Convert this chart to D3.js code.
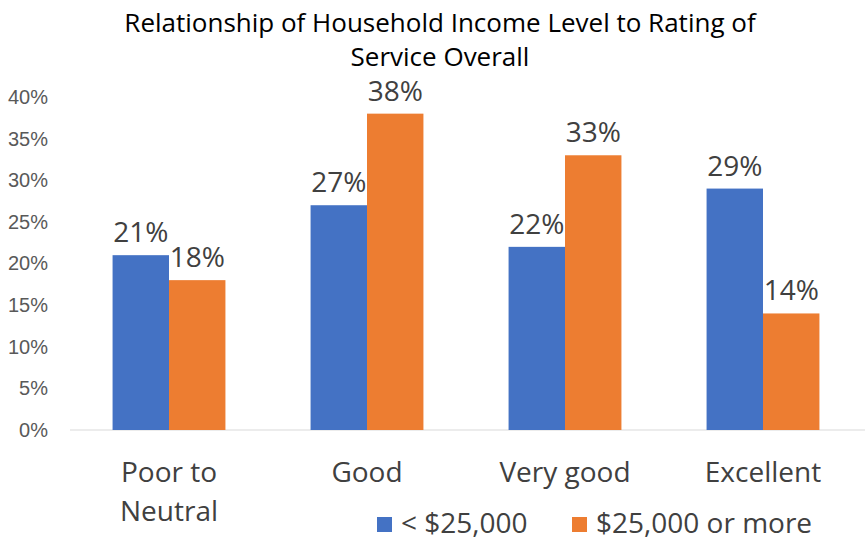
<!DOCTYPE html>
<html>
<head>
<meta charset="utf-8">
<script src="https://cdn.jsdelivr.net/npm/d3@7"></script>
<style>
  body { margin: 0; background: #fff; }
  svg { font-family: "Open Sans", "Noto Sans", sans-serif; }
</style>
</head>
<body>
<svg id="chart" width="865" height="552"></svg>
<script>
// data
let categories = ["Poor to Neutral", "Good", "Very good", "Excellent"],
    category_lines = [["Poor to", "Neutral"], ["Good"], ["Very good"], ["Excellent"]],
    series_names = ["< $25,000", "$25,000 or more"],
    low_income = [0.21, 0.27, 0.22, 0.29],
    high_income = [0.18, 0.38, 0.33, 0.14],
    y_ticks = [0, 0.05, 0.10, 0.15, 0.20, 0.25, 0.30, 0.35, 0.40],
    colors = ["#4472c4", "#ed7d31"];

let series = [low_income, high_income];

let svg = d3.select("#chart"),
    margin = {left: 70, right: 3, top: 97, bottom: 122},
    width = 865,
    height = 552;

let x = d3.scaleBand()
  .domain(categories)
  .range([margin.left, width - margin.right])
  .paddingInner(0.43)
  .paddingOuter(0.215);

let x_inner = d3.scaleBand()
  .domain(d3.range(series.length))
  .range([0, x.bandwidth()]);

let y = d3.scaleLinear()
  .domain([0, 0.4])
  .range([height - margin.bottom, margin.top]);

// title
svg.append("g")
  .selectAll("text")
  .data(["Relationship of Household Income Level to Rating of", "Service Overall"])
  .enter().append("text")
  .attr("x", 440)
  .attr("y", (d, i) => 32 + i * 34)
  .attr("text-anchor", "middle")
  .attr("font-size", 26)
  .attr("fill", "#000")
  .text(d => d);

// y axis labels, no gridlines
let y_axis = d3.axisLeft(y)
  .tickValues(y_ticks)
  .tickFormat(d3.format(".0%"))
  .tickSize(0)
  .tickPadding(0);

svg.append("g")
  .attr("transform", `translate(48,0)`)
  .call(y_axis)
  .call(g => g.select(".domain").remove())
  .selectAll("text")
  .attr("font-size", 20)
  .attr("font-family", "inherit")
  .attr("fill", "#595959");

// baseline
svg.append("line")
  .attr("x1", margin.left)
  .attr("x2", width)
  .attr("y1", y(0))
  .attr("y2", y(0))
  .attr("stroke", "#d9d9d9")
  .attr("stroke-width", 1);

// bars
let groups = svg.append("g")
  .selectAll("g")
  .data(series)
  .enter().append("g")
  .attr("fill", (d, i) => colors[i]);

groups.each(function(values, s) {
  let g = d3.select(this);
  g.selectAll("rect")
    .data(values)
    .enter().append("rect")
    .attr("x", (d, i) => x(categories[i]) + x_inner(s))
    .attr("width", x_inner.bandwidth())
    .attr("y", d => y(d))
    .attr("height", d => y(0) - y(d));

  g.selectAll("text")
    .data(values)
    .enter().append("text")
    .attr("x", (d, i) => x(categories[i]) + x_inner(s) + x_inner.bandwidth() / 2)
    .attr("y", d => y(d) - 13)
    .attr("text-anchor", "middle")
    .attr("font-size", 28)
    .attr("fill", "#404040")
    .text(d => d3.format(".0%")(d));
});

// category labels
svg.append("g")
  .selectAll("text")
  .data(categories)
  .enter().append("text")
  .attr("x", d => x(d) + x.bandwidth() / 2)
  .attr("y", 482)
  .attr("text-anchor", "middle")
  .attr("font-size", 28)
  .attr("fill", "#404040")
  .each(function(d, i) {
    d3.select(this).selectAll("tspan")
      .data(category_lines[i])
      .enter().append("tspan")
      .attr("x", x(d) + x.bandwidth() / 2)
      .attr("dy", (t, j) => j ? 39 : 0)
      .text(t => t);
  });

// legend
let legend_x = [377, 572];
let legend = svg.append("g")
  .selectAll("g")
  .data(series_names)
  .enter().append("g")
  .attr("transform", (d, i) => `translate(${legend_x[i]},517)`);

legend.append("rect")
  .attr("width", 15)
  .attr("height", 15)
  .attr("fill", (d, i) => colors[i]);

legend.append("text")
  .attr("x", 24)
  .attr("y", 16)
  .attr("font-size", 28)
  .attr("fill", "#404040")
  .text(d => d);
</script>
</body>
</html>
